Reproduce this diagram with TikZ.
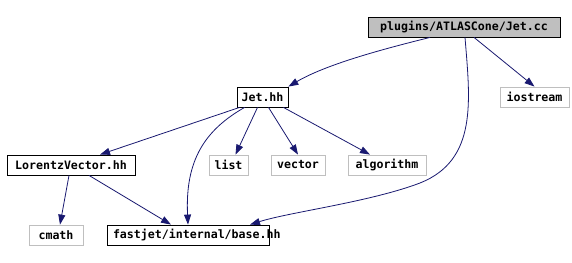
\documentclass[tikz,border=0pt]{standalone}
\usepackage{fontspec}
\setmonofont{DejaVu Sans Mono}
\usetikzlibrary{arrows.meta,positioning}
\definecolor{edgeblue}{HTML}{191970}
\definecolor{extgray}{HTML}{BFBFBF}

\begin{document}
\begin{tikzpicture}[
 x=1pt,y=1pt,
 file/.style={draw,align=center,font=\ttfamily\bfseries\fontsize{11.6}{12}\selectfont,
   minimum height=20pt,inner sep=0pt,line width=0.8pt},
 ext/.style={file,draw=extgray},
 edge/.style={-{Triangle[length=10pt,width=7pt,fill=edgeblue]},draw=edgeblue,line width=0.8pt}
]
\useasboundingbox (0,0) rectangle (572,-262);
\node[file,fill=extgray,minimum width=192pt] (jetcc) at (464,-27) {plugins/ATLASCone/Jet.cc};
\node[ext,minimum width=69pt] (iostream) at (534.5,-97) {iostream};
\node[file,minimum width=51pt] (jethh) at (262.5,-97) {Jet.hh};
\node[file,minimum width=128pt] (lorentz) at (71,-165) {LorentzVector.hh};
\node[ext,minimum width=39pt] (list) at (228.5,-165) {list};
\node[ext,minimum width=54pt] (vector) at (298,-165) {vector};
\node[ext,minimum width=78pt] (algo) at (387,-165) {algorithm};
\node[ext,minimum width=54pt] (cmath) at (56,-235) {cmath};
\node[file,minimum width=162pt] (base) at (188,-235)
 {\makebox[150pt][l]{fastjet/internal/base.hh}};
\draw[edge] (jetcc.south) ++(-34,0) .. controls (400,-45) and (330,-62) .. (jethh.north east);
\draw[edge] (jetcc.south) ++(10,0) -- (iostream.north);
\draw[edge] (jetcc.south) ++(1,0) .. controls (470,-100) and (478,-160) .. (420,-183)
 .. controls (370,-202) and (290,-212) .. ([xshift=62pt]base.north);
\draw[edge] (jethh.south west) ++(3,0) -- ([xshift=29pt]lorentz.north);
\draw[edge] (jethh.south) ++(-5,0) -- ([xshift=7pt]list.north);
\draw[edge] (jethh.south) ++(6,0) -- (vector.north);
\draw[edge] (jethh.south east) ++(-5,0) -- ([xshift=-17pt]algo.north);
\draw[edge] (jethh.south west) ++(8,0) .. controls (205,-130) and (185,-160) .. (base.north);
\draw[edge] (lorentz.south) ++(-2,0) -- ([xshift=4pt]cmath.north);
\draw[edge] (lorentz.south) ++(18,0) -- ([xshift=-17pt]base.north);
\end{tikzpicture}
\end{document}
